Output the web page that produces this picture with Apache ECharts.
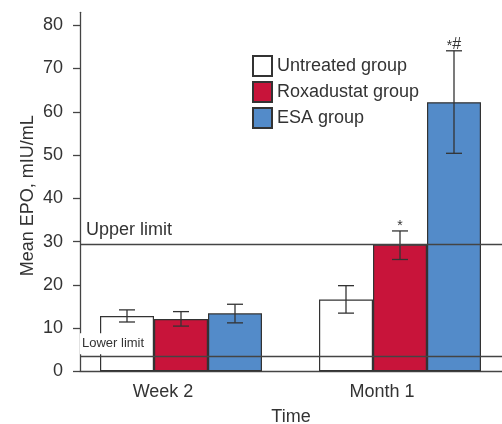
<!DOCTYPE html>
<html>
<head>
<meta charset="utf-8">
<script src="https://cdn.jsdelivr.net/npm/echarts@6/dist/echarts.min.js"></script>
<style>html,body{margin:0;padding:0;background:#fff;}#c{width:502px;height:424px;}</style>
</head>
<body>
<div id="c"></div>
<script>
const categories = ['Week 2', 'Month 1'];
const seriesNames = ['Untreated group', 'Roxadustat group', 'ESA group'];
const untreated = [12.8, 16.6];
const roxadustat = [12.1, 29.3];
const esa = [13.4, 62.2];
const untreatedErr = [[11.4, 14.2], [13.45, 19.8]];
const roxadustatErr = [[10.45, 13.8], [25.85, 32.45]];
const esaErr = [[11.2, 15.5], [50.4, 74.1]];
const untreatedNotes = ['', ''];
const roxadustatNotes = ['', '*'];
const esaNotes = ['', '*#'];
const yTicks = [0, 10, 20, 30, 40, 50, 60, 70, 80];
const upperLimit = 29.4;
const lowerLimit = 3.5;

const BAR_W = 54, CAP_W = 16;
const colors = ['#ffffff', '#C8143A', '#538BC9'];
const values = [untreated, roxadustat, esa];
const errs = [untreatedErr, roxadustatErr, esaErr];
const notes = [untreatedNotes, roxadustatNotes, esaNotes];

const errData = [];
const errNotes = [];
for (let s = 0; s < 3; s++) {
  for (let c = 0; c < categories.length; c++) {
    errData.push([c, s, errs[s][c][0], errs[s][c][1]]);
    errNotes.push(notes[s][c]);
  }
}

const chart = echarts.init(document.getElementById('c'));
const txt = '#333';
const FONT = 'Liberation Sans, Arial, sans-serif';
const option = {
  animation: false,
  textStyle: { fontFamily: FONT },
  grid: [
    { left: 71.5, width: 438, top: 12.3, bottom: 52.7, outerBoundsMode: 'none', containLabel: false },
    { left: 80, right: 0, top: 12.3, bottom: 52.7, outerBoundsMode: 'none', containLabel: false }
  ],
  legend: {
    data: seriesNames,
    orient: 'vertical', left: 252, top: 55, padding: 0,
    itemWidth: 19, itemHeight: 20, itemGap: 4, icon: 'rect',
    textStyle: { fontSize: 18, color: txt }
  },
  xAxis: [
    { gridIndex: 0, type: 'category', data: categories,
      axisLine: { show: false }, axisTick: { show: false },
      axisLabel: { fontSize: 18, color: txt, margin: 12, padding: [0, 36, 0, 0] } },
    { gridIndex: 1, type: 'value', min: 0, max: 1,
      axisLine: { lineStyle: { color: '#444', width: 1.3 } },
      axisTick: { show: false }, axisLabel: { show: false }, splitLine: { show: false },
      name: 'Time', nameLocation: 'middle', nameGap: 37, nameMoveOverlap: false,
      nameTextStyle: { fontSize: 18, color: txt } }
  ],
  yAxis: [
    { gridIndex: 0, type: 'value', min: 0, max: 83, show: false },
    { gridIndex: 1, type: 'value', min: 0, max: 83,
      axisLine: { show: true, lineStyle: { color: '#444', width: 1.3 } },
      axisTick: { show: true, length: 7, customValues: yTicks, lineStyle: { color: '#444', width: 1.3 } },
      axisLabel: { customValues: yTicks, fontSize: 18, color: txt, margin: 17 },
      splitLine: { show: false },
      name: 'Mean EPO, mIU/mL', nameLocation: 'middle', nameGap: 43, nameMoveOverlap: false,
      nameTextStyle: { fontSize: 18, color: txt, padding: [0, 8, 0, 0] } }
  ],
  series: [
    ...seriesNames.map((n, i) => ({
      name: n, type: 'bar', xAxisIndex: 0, yAxisIndex: 0,
      data: values[i], barWidth: BAR_W, barGap: '0%', z: 2,
      itemStyle: { color: colors[i], borderColor: '#333', borderWidth: 1.2 }
    })),
    {
      type: 'custom', xAxisIndex: 0, yAxisIndex: 0, z: 4,
      data: errData,
      encode: { x: 0, y: [2, 3] },
      renderItem: function (params, api) {
        const c = api.value(0), s = api.value(1);
        const lo = api.coord([c, api.value(2)]);
        const hi = api.coord([c, api.value(3)]);
        const x = lo[0] + (s - 1) * BAR_W;
        const st = { stroke: '#333', lineWidth: 1.3 };
        const note = errNotes[params.dataIndex];
        const rich = note.split('').map(ch => ch === '#' ? '{h|#}' : '{s|' + ch + '}').join('');
        return {
          type: 'group',
          children: [
            { type: 'line', shape: { x1: x, y1: hi[1], x2: x, y2: lo[1] }, style: st },
            { type: 'line', shape: { x1: x - CAP_W / 2, y1: hi[1], x2: x + CAP_W / 2, y2: hi[1] }, style: st },
            { type: 'line', shape: { x1: x - CAP_W / 2, y1: lo[1], x2: x + CAP_W / 2, y2: lo[1] }, style: st },
            { type: 'text', style: { text: rich, x: x, y: hi[1] + 2,
              align: 'center', verticalAlign: 'bottom', fill: txt,
              rich: {
                s: { fontSize: 14, fill: txt, fontFamily: FONT, verticalAlign: 'bottom' },
                h: { fontSize: 16, fill: txt, fontFamily: FONT, verticalAlign: 'bottom' }
              } } }
          ]
        };
      }
    },
    {
      type: 'line', xAxisIndex: 1, yAxisIndex: 1, data: [], z: 6,
      markLine: {
        silent: true, symbol: 'none', z: 6,
        lineStyle: { color: '#444', width: 1.3, type: 'solid' },
        data: [
          { yAxis: upperLimit, label: { show: true, formatter: 'Upper limit', position: 'insideStartTop',
              fontSize: 18, color: txt, distance: [6, 5] } },
          { yAxis: lowerLimit, label: { show: true, formatter: 'Lower limit', position: 'insideStartTop',
              fontSize: 13, color: txt, distance: [0, 2], backgroundColor: '#fff', padding: [4, 3, 4, 2] } }
        ]
      }
    }
  ]
};
chart.setOption(option);
</script>
</body>
</html>
